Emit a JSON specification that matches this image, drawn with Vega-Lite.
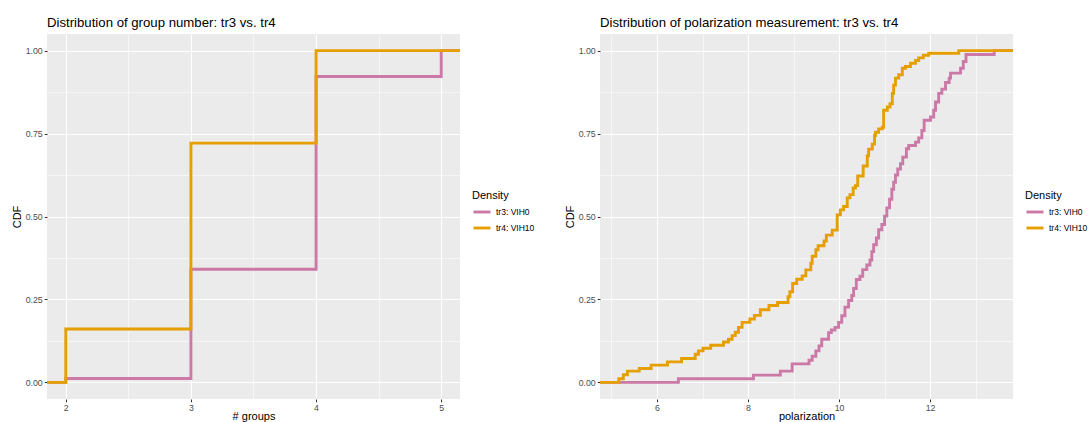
{
  "$schema": "https://vega.github.io/schema/vega-lite/v6.json",
  "background": "white",
  "padding": {"left": 11, "top": 15, "right": 0, "bottom": 0},
  "bounds": "flush",
  "spacing": 140,
  "datasets": {
    "group_number": [
      {"Density": "tr3: VIH0", "groups": 1.85, "CDF": 0},
      {"Density": "tr3: VIH0", "groups": 2, "CDF": 0.012},
      {"Density": "tr3: VIH0", "groups": 3, "CDF": 0.341},
      {"Density": "tr3: VIH0", "groups": 4, "CDF": 0.922},
      {"Density": "tr3: VIH0", "groups": 5, "CDF": 1},
      {"Density": "tr3: VIH0", "groups": 5.15, "CDF": 1},
      {"Density": "tr4: VIH10", "groups": 1.85, "CDF": 0},
      {"Density": "tr4: VIH10", "groups": 2, "CDF": 0.161},
      {"Density": "tr4: VIH10", "groups": 3, "CDF": 0.721},
      {"Density": "tr4: VIH10", "groups": 4, "CDF": 1},
      {"Density": "tr4: VIH10", "groups": 5.15, "CDF": 1}
    ],
    "polarization": [
      {"Density": "tr3: VIH0", "polarization": 4.7475, "CDF": 0},
      {"Density": "tr3: VIH0", "polarization": 6.47, "CDF": 0.011},
      {"Density": "tr3: VIH0", "polarization": 8.12, "CDF": 0.022},
      {"Density": "tr3: VIH0", "polarization": 8.71, "CDF": 0.034},
      {"Density": "tr3: VIH0", "polarization": 8.97, "CDF": 0.056},
      {"Density": "tr3: VIH0", "polarization": 9.34, "CDF": 0.067},
      {"Density": "tr3: VIH0", "polarization": 9.41, "CDF": 0.079},
      {"Density": "tr3: VIH0", "polarization": 9.49, "CDF": 0.095},
      {"Density": "tr3: VIH0", "polarization": 9.56, "CDF": 0.11},
      {"Density": "tr3: VIH0", "polarization": 9.62, "CDF": 0.13},
      {"Density": "tr3: VIH0", "polarization": 9.77, "CDF": 0.15},
      {"Density": "tr3: VIH0", "polarization": 9.83, "CDF": 0.158},
      {"Density": "tr3: VIH0", "polarization": 9.91, "CDF": 0.166},
      {"Density": "tr3: VIH0", "polarization": 9.99, "CDF": 0.181},
      {"Density": "tr3: VIH0", "polarization": 10.06, "CDF": 0.201},
      {"Density": "tr3: VIH0", "polarization": 10.13, "CDF": 0.227},
      {"Density": "tr3: VIH0", "polarization": 10.21, "CDF": 0.247},
      {"Density": "tr3: VIH0", "polarization": 10.28, "CDF": 0.262},
      {"Density": "tr3: VIH0", "polarization": 10.32, "CDF": 0.283},
      {"Density": "tr3: VIH0", "polarization": 10.38, "CDF": 0.31},
      {"Density": "tr3: VIH0", "polarization": 10.46, "CDF": 0.32},
      {"Density": "tr3: VIH0", "polarization": 10.52, "CDF": 0.34},
      {"Density": "tr3: VIH0", "polarization": 10.61, "CDF": 0.354},
      {"Density": "tr3: VIH0", "polarization": 10.68, "CDF": 0.369},
      {"Density": "tr3: VIH0", "polarization": 10.72, "CDF": 0.394},
      {"Density": "tr3: VIH0", "polarization": 10.76, "CDF": 0.415},
      {"Density": "tr3: VIH0", "polarization": 10.82, "CDF": 0.435},
      {"Density": "tr3: VIH0", "polarization": 10.87, "CDF": 0.46},
      {"Density": "tr3: VIH0", "polarization": 10.94, "CDF": 0.476},
      {"Density": "tr3: VIH0", "polarization": 11.0, "CDF": 0.501},
      {"Density": "tr3: VIH0", "polarization": 11.05, "CDF": 0.526},
      {"Density": "tr3: VIH0", "polarization": 11.11, "CDF": 0.552},
      {"Density": "tr3: VIH0", "polarization": 11.16, "CDF": 0.582},
      {"Density": "tr3: VIH0", "polarization": 11.2, "CDF": 0.603},
      {"Density": "tr3: VIH0", "polarization": 11.24, "CDF": 0.625},
      {"Density": "tr3: VIH0", "polarization": 11.29, "CDF": 0.643},
      {"Density": "tr3: VIH0", "polarization": 11.35, "CDF": 0.659},
      {"Density": "tr3: VIH0", "polarization": 11.4, "CDF": 0.679},
      {"Density": "tr3: VIH0", "polarization": 11.48, "CDF": 0.704},
      {"Density": "tr3: VIH0", "polarization": 11.53, "CDF": 0.714},
      {"Density": "tr3: VIH0", "polarization": 11.68, "CDF": 0.724},
      {"Density": "tr3: VIH0", "polarization": 11.75, "CDF": 0.737},
      {"Density": "tr3: VIH0", "polarization": 11.82, "CDF": 0.759},
      {"Density": "tr3: VIH0", "polarization": 11.87, "CDF": 0.79},
      {"Density": "tr3: VIH0", "polarization": 12.01, "CDF": 0.8},
      {"Density": "tr3: VIH0", "polarization": 12.08, "CDF": 0.82},
      {"Density": "tr3: VIH0", "polarization": 12.12, "CDF": 0.845},
      {"Density": "tr3: VIH0", "polarization": 12.19, "CDF": 0.871},
      {"Density": "tr3: VIH0", "polarization": 12.26, "CDF": 0.884},
      {"Density": "tr3: VIH0", "polarization": 12.34, "CDF": 0.904},
      {"Density": "tr3: VIH0", "polarization": 12.42, "CDF": 0.917},
      {"Density": "tr3: VIH0", "polarization": 12.45, "CDF": 0.932},
      {"Density": "tr3: VIH0", "polarization": 12.67, "CDF": 0.947},
      {"Density": "tr3: VIH0", "polarization": 12.73, "CDF": 0.967},
      {"Density": "tr3: VIH0", "polarization": 12.79, "CDF": 0.988},
      {"Density": "tr3: VIH0", "polarization": 13.41, "CDF": 1},
      {"Density": "tr3: VIH0", "polarization": 13.8225, "CDF": 1},
      {"Density": "tr4: VIH10", "polarization": 4.7475, "CDF": 0},
      {"Density": "tr4: VIH10", "polarization": 5.16, "CDF": 0.011},
      {"Density": "tr4: VIH10", "polarization": 5.26, "CDF": 0.023},
      {"Density": "tr4: VIH10", "polarization": 5.35, "CDF": 0.034},
      {"Density": "tr4: VIH10", "polarization": 5.61, "CDF": 0.042},
      {"Density": "tr4: VIH10", "polarization": 5.87, "CDF": 0.052},
      {"Density": "tr4: VIH10", "polarization": 6.23, "CDF": 0.062},
      {"Density": "tr4: VIH10", "polarization": 6.54, "CDF": 0.072},
      {"Density": "tr4: VIH10", "polarization": 6.84, "CDF": 0.085},
      {"Density": "tr4: VIH10", "polarization": 6.91, "CDF": 0.095},
      {"Density": "tr4: VIH10", "polarization": 7.01, "CDF": 0.103},
      {"Density": "tr4: VIH10", "polarization": 7.18, "CDF": 0.112},
      {"Density": "tr4: VIH10", "polarization": 7.46, "CDF": 0.122},
      {"Density": "tr4: VIH10", "polarization": 7.57, "CDF": 0.13},
      {"Density": "tr4: VIH10", "polarization": 7.65, "CDF": 0.141},
      {"Density": "tr4: VIH10", "polarization": 7.72, "CDF": 0.151},
      {"Density": "tr4: VIH10", "polarization": 7.79, "CDF": 0.166},
      {"Density": "tr4: VIH10", "polarization": 7.87, "CDF": 0.181},
      {"Density": "tr4: VIH10", "polarization": 8.04, "CDF": 0.191},
      {"Density": "tr4: VIH10", "polarization": 8.14, "CDF": 0.202},
      {"Density": "tr4: VIH10", "polarization": 8.27, "CDF": 0.219},
      {"Density": "tr4: VIH10", "polarization": 8.46, "CDF": 0.232},
      {"Density": "tr4: VIH10", "polarization": 8.65, "CDF": 0.241},
      {"Density": "tr4: VIH10", "polarization": 8.88, "CDF": 0.258},
      {"Density": "tr4: VIH10", "polarization": 8.92, "CDF": 0.273},
      {"Density": "tr4: VIH10", "polarization": 8.98, "CDF": 0.298},
      {"Density": "tr4: VIH10", "polarization": 9.07, "CDF": 0.311},
      {"Density": "tr4: VIH10", "polarization": 9.19, "CDF": 0.321},
      {"Density": "tr4: VIH10", "polarization": 9.27, "CDF": 0.339},
      {"Density": "tr4: VIH10", "polarization": 9.38, "CDF": 0.359},
      {"Density": "tr4: VIH10", "polarization": 9.41, "CDF": 0.38},
      {"Density": "tr4: VIH10", "polarization": 9.49, "CDF": 0.4},
      {"Density": "tr4: VIH10", "polarization": 9.54, "CDF": 0.412},
      {"Density": "tr4: VIH10", "polarization": 9.67, "CDF": 0.426},
      {"Density": "tr4: VIH10", "polarization": 9.72, "CDF": 0.444},
      {"Density": "tr4: VIH10", "polarization": 9.85, "CDF": 0.459},
      {"Density": "tr4: VIH10", "polarization": 9.96, "CDF": 0.505},
      {"Density": "tr4: VIH10", "polarization": 10.03, "CDF": 0.52},
      {"Density": "tr4: VIH10", "polarization": 10.1, "CDF": 0.53},
      {"Density": "tr4: VIH10", "polarization": 10.18, "CDF": 0.556},
      {"Density": "tr4: VIH10", "polarization": 10.24, "CDF": 0.566},
      {"Density": "tr4: VIH10", "polarization": 10.31, "CDF": 0.586},
      {"Density": "tr4: VIH10", "polarization": 10.36, "CDF": 0.593},
      {"Density": "tr4: VIH10", "polarization": 10.41, "CDF": 0.622},
      {"Density": "tr4: VIH10", "polarization": 10.53, "CDF": 0.652},
      {"Density": "tr4: VIH10", "polarization": 10.62, "CDF": 0.683},
      {"Density": "tr4: VIH10", "polarization": 10.65, "CDF": 0.703},
      {"Density": "tr4: VIH10", "polarization": 10.73, "CDF": 0.718},
      {"Density": "tr4: VIH10", "polarization": 10.78, "CDF": 0.744},
      {"Density": "tr4: VIH10", "polarization": 10.8, "CDF": 0.754},
      {"Density": "tr4: VIH10", "polarization": 10.87, "CDF": 0.764},
      {"Density": "tr4: VIH10", "polarization": 10.95, "CDF": 0.769},
      {"Density": "tr4: VIH10", "polarization": 10.98, "CDF": 0.82},
      {"Density": "tr4: VIH10", "polarization": 11.06, "CDF": 0.83},
      {"Density": "tr4: VIH10", "polarization": 11.12, "CDF": 0.84},
      {"Density": "tr4: VIH10", "polarization": 11.17, "CDF": 0.871},
      {"Density": "tr4: VIH10", "polarization": 11.2, "CDF": 0.896},
      {"Density": "tr4: VIH10", "polarization": 11.24, "CDF": 0.917},
      {"Density": "tr4: VIH10", "polarization": 11.31, "CDF": 0.927},
      {"Density": "tr4: VIH10", "polarization": 11.39, "CDF": 0.947},
      {"Density": "tr4: VIH10", "polarization": 11.46, "CDF": 0.952},
      {"Density": "tr4: VIH10", "polarization": 11.57, "CDF": 0.962},
      {"Density": "tr4: VIH10", "polarization": 11.68, "CDF": 0.97},
      {"Density": "tr4: VIH10", "polarization": 11.75, "CDF": 0.978},
      {"Density": "tr4: VIH10", "polarization": 11.85, "CDF": 0.986},
      {"Density": "tr4: VIH10", "polarization": 11.97, "CDF": 0.992},
      {"Density": "tr4: VIH10", "polarization": 12.63, "CDF": 1},
      {"Density": "tr4: VIH10", "polarization": 13.8225, "CDF": 1}
    ]
  },
  "hconcat": [
    {
      "width": 413,
      "height": 365,
      "title": {"text": "Distribution of group number: tr3 vs. tr4"},
      "data": {"name": "group_number"},
      "mark": {"type": "line", "interpolate": "step-after", "strokeWidth": 2.9, "clip": true},
      "encoding": {
        "x": {
          "field": "groups", "type": "quantitative",
          "scale": {"domain": [1.85, 5.15], "nice": false, "zero": false},
          "axis": {
            "title": "# groups",
            "titlePadding": -2,
            "values": [2, 2.5, 3, 3.5, 4, 4.5, 5],
            "format": "~g",
            "labelExpr": "datum.value % 1 === 0 ? datum.label : ''",
            "tickOpacity": {"condition": {"test": "datum.value % 1 === 0", "value": 1}, "value": 0},
            "gridWidth": {"condition": {"test": "datum.value % 1 === 0", "value": 1.1}, "value": 0.55}
          }
        },
        "y": {
          "field": "CDF", "type": "quantitative",
          "scale": {"domain": [-0.05, 1.05], "nice": false},
          "axis": {
            "title": "CDF",
            "values": [0, 0.125, 0.25, 0.375, 0.5, 0.625, 0.75, 0.875, 1],
            "format": ".2f",
            "labelExpr": "(datum.value * 4) % 1 === 0 ? datum.label : ''",
            "tickOpacity": {"condition": {"test": "(datum.value * 4) % 1 === 0", "value": 1}, "value": 0},
            "gridWidth": {"condition": {"test": "(datum.value * 4) % 1 === 0", "value": 1.1}, "value": 0.55}
          }
        },
        "color": {
          "field": "Density", "type": "nominal",
          "scale": {"domain": ["tr3: VIH0", "tr4: VIH10"], "range": ["#CC79A7", "#E69F00"]},
          "legend": {"title": "Density", "orient": "none", "legendX": 425, "legendY": 156}
        }
      }
    },
    {
      "width": 413,
      "height": 365,
      "title": {"text": "Distribution of polarization measurement: tr3 vs. tr4"},
      "data": {"name": "polarization"},
      "mark": {"type": "line", "interpolate": "step-after", "strokeWidth": 2.9, "clip": true},
      "encoding": {
        "x": {
          "field": "polarization", "type": "quantitative",
          "scale": {"domain": [4.7475, 13.8225], "nice": false, "zero": false},
          "axis": {
            "title": "polarization",
            "titlePadding": -2,
            "values": [5, 6, 7, 8, 9, 10, 11, 12, 13],
            "format": "~g",
            "labelExpr": "datum.value % 2 === 0 ? datum.label : ''",
            "tickOpacity": {"condition": {"test": "datum.value % 2 === 0", "value": 1}, "value": 0},
            "gridWidth": {"condition": {"test": "datum.value % 2 === 0", "value": 1.1}, "value": 0.55}
          }
        },
        "y": {
          "field": "CDF", "type": "quantitative",
          "scale": {"domain": [-0.05, 1.05], "nice": false},
          "axis": {
            "title": "CDF",
            "values": [0, 0.125, 0.25, 0.375, 0.5, 0.625, 0.75, 0.875, 1],
            "format": ".2f",
            "labelExpr": "(datum.value * 4) % 1 === 0 ? datum.label : ''",
            "tickOpacity": {"condition": {"test": "(datum.value * 4) % 1 === 0", "value": 1}, "value": 0},
            "gridWidth": {"condition": {"test": "(datum.value * 4) % 1 === 0", "value": 1.1}, "value": 0.55}
          }
        },
        "color": {
          "field": "Density", "type": "nominal",
          "scale": {"domain": ["tr3: VIH0", "tr4: VIH10"], "range": ["#CC79A7", "#E69F00"]},
          "legend": {"title": "Density", "orient": "none", "legendX": 425, "legendY": 156}
        }
      }
    }
  ],
  "resolve": {"scale": {"color": "independent"}, "legend": {"color": "independent"}},
  "config": {
    "font": "Liberation Sans",
    "view": {"fill": "#EBEBEB", "stroke": null},
    "title": {
      "font": "Liberation Sans", "fontSize": 13.2, "fontWeight": "normal", "color": "black",
      "anchor": "start", "frame": "group", "baseline": "alphabetic", "offset": 4
    },
    "axis": {
      "labelFont": "Liberation Sans", "labelFontSize": 8.8, "labelColor": "#4D4D4D",
      "titleFont": "Liberation Sans", "titleFontSize": 11, "titleFontWeight": "normal", "titleColor": "black",
      "tickColor": "#333333", "tickSize": 2.75, "tickWidth": 1,
      "domain": false, "gridColor": "white", "labelPadding": 2, "titlePadding": 3, "labelOverlap": false
    },
    "legend": {
      "symbolType": "stroke", "symbolSize": 289, "symbolStrokeWidth": 2.9,
      "titleFont": "Liberation Sans", "titleFontSize": 11, "titleFontWeight": "normal", "titleColor": "black",
      "labelFont": "Liberation Sans", "labelFontSize": 8.5, "labelColor": "black",
      "labelOffset": 4, "rowPadding": 0, "titlePadding": 1, "padding": 0
    }
  }
}
